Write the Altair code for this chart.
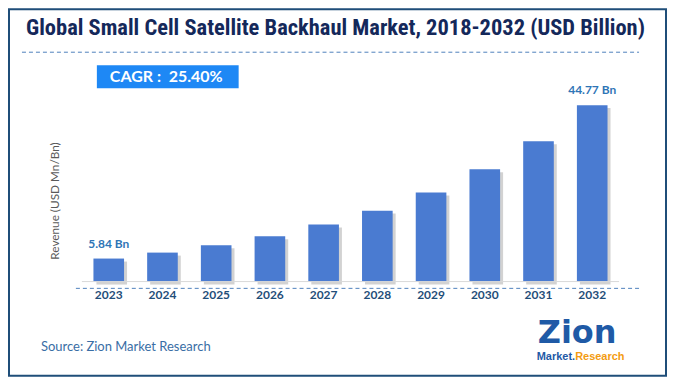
import altair as alt
import pandas as pd

years = ["2023", "2024", "2025", "2026", "2027", "2028", "2029", "2030", "2031", "2032"]
revenue = [5.84, 7.35, 9.2, 11.5, 14.5, 18.0, 22.6, 28.5, 35.6, 44.77]
bar_labels = ["5.84 Bn", "", "", "", "", "", "", "", "", "44.77 Bn"]

title_text = "Global Small Cell Satellite Backhaul Market, 2018-2032 (USD Billion)"
cagr_text = "CAGR :\u00a0\u00a025.40%"
y_title = "Revenue (USD Mn/Bn)"
source_text = "Source: Zion Market Research"

df = pd.DataFrame({"year": years, "revenue": revenue, "label": bar_labels})
one = pd.DataFrame({"k": [0]})

FONT = "Lato, Open Sans, sans-serif"
BAR = "#4A7BD1"

xs = alt.Scale(domain=years, range=[73, 611], paddingInner=0.43, paddingOuter=0.215)
ys = alt.Scale(domain=[0, 50], range=[272.7, 75.35], nice=False, zero=True)

X = alt.X("year:N", scale=xs, axis=None)
Y = alt.Y("revenue:Q", scale=ys, axis=None)

base = alt.Chart(df)

shadow = base.mark_bar(color="#7f7f7f", opacity=0.35, xOffset=3, yOffset=3, y2Offset=0).encode(x=X, y=Y)
bars = base.mark_bar(color=BAR).encode(x=X, y=Y)

value_labels = base.transform_filter(alt.datum.label != "").mark_text(
    font=FONT, fontSize=12, fontWeight="bold", color="#2E75B6", dy=-15, baseline="middle"
).encode(x=X, y=Y, text="label:N")

year_labels = base.mark_text(
    font=FONT, fontSize=12, fontWeight="bold", color="#1F4E79", baseline="middle"
).encode(x=X, y=alt.value(286), text="year:N")

deco = alt.Chart(one)

axis_line = deco.mark_rule(color="#d9d9d9", strokeWidth=1).encode(
    x=alt.value(73), x2=alt.value(611), y=alt.value(272.7))
bottom_dash = deco.mark_rule(color="#4F81BD", strokeWidth=1, strokeDash=[4, 3]).encode(
    x=alt.value(67), x2=alt.value(631), y=alt.value(279.5))
title_dash = deco.mark_rule(color="#4F81BD", strokeWidth=1, strokeDash=[4, 3]).encode(
    x=alt.value(13), x2=alt.value(631), y=alt.value(43))

title = deco.mark_text(
    font="Liberation Sans Narrow, Roboto Condensed, Lato, sans-serif", fontSize=22.5,
    fontWeight="bold", color="#14285A", align="center", baseline="middle"
).encode(x=alt.value(327), y=alt.value(19), text=alt.value(title_text))

cagr_box = deco.mark_rect(color="#1E88F5").encode(
    x=alt.value(88), x2=alt.value(230), y=alt.value(56), y2=alt.value(79))
cagr = deco.mark_text(
    font=FONT, fontSize=16, fontWeight="bold", color="white", align="left", baseline="middle"
).encode(x=alt.value(101), y=alt.value(67.5), text=alt.value(cagr_text))

ylab = deco.mark_text(
    font=FONT, fontSize=11.8, color="#595959", angle=270, align="center", baseline="middle"
).encode(x=alt.value(46), y=alt.value(192), text=alt.value(y_title))

source = deco.mark_text(
    font=FONT, fontSize=13, color="#3A6EA5", align="left", baseline="middle"
).encode(x=alt.value(32), y=alt.value(338), text=alt.value(source_text))

zion = deco.mark_text(
    font="DejaVu Sans, sans-serif", fontSize=32, fontWeight="bold",
    color="#1F5AA6", align="center", baseline="middle"
).encode(x=alt.value(569), y=alt.value(324), text=alt.value("Zion"))
market = deco.mark_text(
    font="Liberation Sans, Arial, sans-serif", fontSize=11, fontWeight="bold",
    color="#1F5AA6", align="right", baseline="middle"
).encode(x=alt.value(567), y=alt.value(348), text=alt.value("Market."))
research = deco.mark_text(
    font="Liberation Sans, Arial, sans-serif", fontSize=11, fontWeight="bold",
    color="#F39C12", align="left", baseline="middle"
).encode(x=alt.value(567), y=alt.value(348), text=alt.value("Research"))

chart = alt.layer(
    shadow, bars, axis_line, bottom_dash, title_dash, title, cagr_box, cagr,
    ylab, value_labels, year_labels, source, zion, market, research
).properties(
    width=658, height=367, padding=1,
    autosize=alt.AutoSizeParams(type="none"),
    background="white",
).configure_view(stroke="#1F4E79", strokeWidth=2)

chart.save("out.html", embed_options={"renderer": "svg", "actions": False})
